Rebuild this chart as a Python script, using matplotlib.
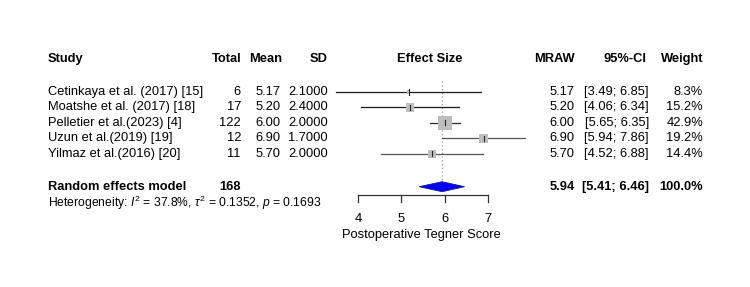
import numpy as np
import matplotlib
matplotlib.use("Agg")
import matplotlib.pyplot as plt
from matplotlib.patches import Rectangle, Polygon

plt.rcParams['font.family'] = ['Liberation Sans', 'DejaVu Sans']
plt.rcParams['mathtext.fontset'] = 'custom'
plt.rcParams['mathtext.rm'] = 'Liberation Sans'
plt.rcParams['mathtext.it'] = 'Liberation Sans:italic'

studies = ["Cetinkaya et al. (2017) [15]", "Moatshe et al. (2017) [18]",
           "Pelletier et al.(2023) [4]", "Uzun et al.(2019) [19]",
           "Yilmaz et al.(2016) [20]"]
totals = [6, 17, 122, 12, 11]
means = [5.17, 5.20, 6.00, 6.90, 5.70]
sds = [2.1, 2.4, 2.0, 1.7, 2.0]
ci_low = [3.49, 4.06, 5.65, 5.94, 4.52]
ci_high = [6.85, 6.34, 6.35, 7.86, 6.88]
weights = [8.3, 15.2, 42.9, 19.2, 14.4]
pooled = 5.94
pooled_low = 5.41
pooled_high = 6.46
pooled_total = 168
xticks = [4, 5, 6, 7]
xlabel = "Postoperative Tegner Score"
het_text = r"Heterogeneity: $I^2$ = 37.8%, $\tau^2$ = 0.1352, $p$ = 0.1693"

W, H = 750, 287
fig = plt.figure(figsize=(W / 100, H / 100), dpi=100)
ax = fig.add_axes([0, 0, 1, 1])
ax.set_axis_off()

px_per_unit = (488 - 358) / 3.0
x0 = 4 - 358 / px_per_unit
x1 = 4 + (W - 358) / px_per_unit
ax.set_xlim(x0, x1)
row0_px, row_h = 92.0, 15.4
ax.set_ylim((H - row0_px) / row_h, (0 - row0_px) / row_h)

def px(xp):
    return x0 + xp / px_per_unit

fs = 9.3

hy = -2.15
ax.text(px(48), hy, "Study", fontsize=fs, fontweight='bold', va='center', ha='left')
ax.text(px(241), hy, "Total", fontsize=fs, fontweight='bold', va='center', ha='right')
ax.text(px(282), hy, "Mean", fontsize=fs, fontweight='bold', va='center', ha='right')
ax.text(px(328), hy, "SD", fontsize=fs, fontweight='bold', va='center', ha='right')
ax.text(px(430), hy, "Effect Size", fontsize=fs, fontweight='bold', va='center', ha='center')
ax.text(px(575), hy, "MRAW", fontsize=fs, fontweight='bold', va='center', ha='right')
ax.text(px(647), hy, "95%-CI", fontsize=fs, fontweight='bold', va='center', ha='right')
ax.text(px(703), hy, "Weight", fontsize=fs, fontweight='bold', va='center', ha='right')

line_cols = ['#1a1a1a', '#1a1a1a', '#2a2a2a', '#555555', '#555555']
wmax = max(weights)
for i, s in enumerate(studies):
    y = i
    ax.text(px(48), y, s, fontsize=fs, va='center', ha='left')
    ax.text(px(241), y, f"{totals[i]}", fontsize=fs, va='center', ha='right')
    ax.text(px(281), y, f"{means[i]:.2f}", fontsize=fs, va='center', ha='right')
    ax.text(px(328), y, f"{sds[i]:.4f}", fontsize=fs, va='center', ha='right')
    ax.text(px(575), y, f"{means[i]:.2f}", fontsize=fs, va='center', ha='right')
    ax.text(px(649), y, f"[{ci_low[i]:.2f}; {ci_high[i]:.2f}]", fontsize=fs, va='center', ha='right')
    ax.text(px(703), y, f"{weights[i]:.1f}%", fontsize=fs, va='center', ha='right')
    ax.plot([ci_low[i], ci_high[i]], [y, y], color=line_cols[i], lw=0.9, zorder=2)
    side_px = 14 * np.sqrt(weights[i] / wmax)
    if weights[i] < 10:
        side_px = 3.5
    sw = side_px / px_per_unit
    sh = side_px / row_h
    ax.add_patch(Rectangle((means[i] - sw / 2, y - sh / 2), sw, sh,
                           facecolor='#bebebe', edgecolor='none', zorder=3))
    ax.plot([means[i], means[i]], [y - 0.17, y + 0.17], color='#222222', lw=0.8, zorder=4)

ry = 6.15
ax.plot([pooled, pooled], [-0.7, ry - 0.3], color='#9a9a9a', lw=0.9,
        linestyle=(0, (1, 2)), zorder=1)

dh = 5.0 / row_h
ax.add_patch(Polygon([[pooled_low, ry], [pooled, ry - dh], [pooled_high, ry], [pooled, ry + dh]],
                     closed=True, facecolor='#0000ff', edgecolor='#1a1a8c', lw=0.6, zorder=4))

ax.text(px(48), ry, "Random effects model", fontsize=fs, fontweight='bold', va='center', ha='left')
ax.text(px(241), ry, f"{pooled_total}", fontsize=fs, fontweight='bold', va='center', ha='right')
ax.text(px(575), ry, f"{pooled:.2f}", fontsize=fs, fontweight='bold', va='center', ha='right')
ax.text(px(649), ry, f"[{pooled_low:.2f}; {pooled_high:.2f}]", fontsize=fs, fontweight='bold', va='center', ha='right')
ax.text(px(703), ry, f"{sum(weights):.1f}%", fontsize=fs, fontweight='bold', va='center', ha='right')

hety = ry + 1.04
ax.text(px(48), hety, het_text, fontsize=8.7, va='center', ha='left')

axy = (195 - row0_px) / row_h
tick_len = 7 / row_h
ax.plot([xticks[0], xticks[-1]], [axy, axy], color='#333333', lw=0.9)
for t in xticks:
    ax.plot([t, t], [axy, axy + tick_len], color='#333333', lw=0.9)
    ax.text(t, (219 - row0_px) / row_h, f"{t}", fontsize=fs, va='center', ha='center')
ax.text(np.mean(xticks) - 0.04, (235 - row0_px) / row_h, xlabel, fontsize=fs, va='center', ha='center')

fig.savefig("out.png", dpi=100, facecolor='white')
